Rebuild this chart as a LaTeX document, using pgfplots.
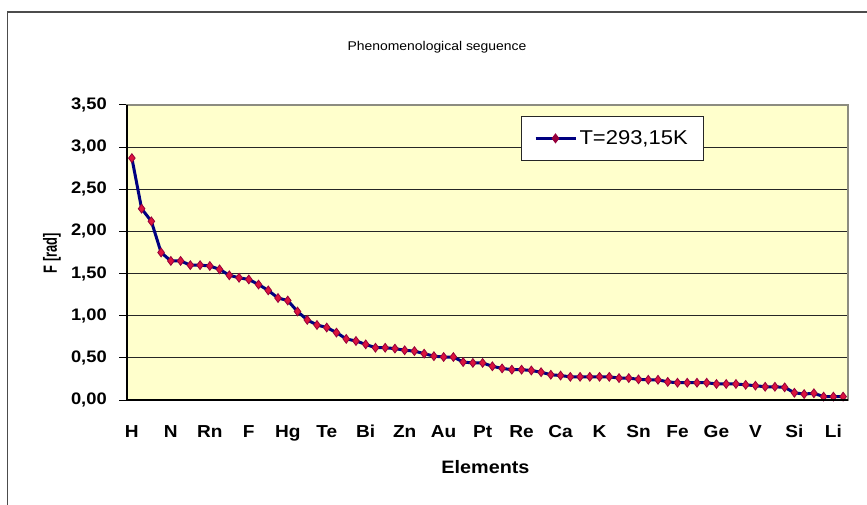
\documentclass[border=0pt]{standalone}
\usepackage{fontspec}
\setmainfont{Liberation Sans}[FakeStretch=1.1]
\usepackage{pgfplots}
\pgfplotsset{compat=1.18}
\usepackage{graphicx}
\definecolor{plotbg}{RGB}{255,255,204}
\definecolor{bordergrey}{RGB}{140,140,128}
\definecolor{mkfill}{RGB}{220,20,60}
\definecolor{mkdraw}{RGB}{150,0,60}
\definecolor{linenavy}{RGB}{0,0,128}
\begin{document}
\begin{tikzpicture}[x=1pt,y=1pt]
\useasboundingbox (0,0) rectangle (650.25,378);
\draw[black!70, line width=1pt] (5.6,-5) -- (5.6,369) -- (660,369);
\node[font=\fontsize{9.5}{10}\selectfont] at (327.75,342.75) {Phenomenological seguence};
\begin{axis}[at={(95.25pt,78pt)}, anchor=south west, scale only axis,
  width=540.75pt, height=221.25pt,
  xmin=-0.5, xmax=73.5, ymin=0, ymax=3.5,
  axis background/.style={fill=plotbg},
  axis line style={draw=bordergrey, line width=0.9pt},
  tick pos=left, tick align=outside,
  xtick=\empty,
  minor xtick={-0.5,0.5,...,73.5}, minor tick length=4.3pt,
  extra x ticks={0,4,...,72},
  extra x tick labels={H,N,Rn,F,Hg,Te,Bi,Zn,Au,Pt,Re,Ca,K,Sn,Fe,Ge,V,Si,Li},
  extra x tick style={major tick length=0pt, grid=none,
    xticklabel style={font=\bfseries\fontsize{13}{13}\selectfont, anchor=north, inner sep=0pt, yshift=-18.75pt}},
  ytick={0,0.5,...,3.5}, major tick length=6pt,
  every tick/.style={black, line width=0.75pt},
  ymajorgrids, grid style={black!85, line width=0.75pt},
  yticklabel={\pgfmathprintnumber[fixed,fixed zerofill,precision=2,use comma,assume math mode=true]{\tick}\hspace*{9pt}},
  yticklabel style={font=\bfseries\fontsize{12.5}{13}\selectfont, anchor=east, inner sep=0pt},
  legend style={at={(0.546,0.9627)}, anchor=north west, draw=black!85, line width=0.75pt,
    fill=white, font=\fontsize{15}{15}\selectfont, inner xsep=9.75pt, inner ysep=8.4pt},
  legend image code/.code={\draw[linenavy,line width=2pt] (0pt,0pt) -- (30pt,0pt);
    \draw[mark=diamond*, mark size=2pt, mark options={fill=mkfill, draw=mkdraw}] plot coordinates {(15pt,0pt)};},
  extra description/.code={\draw[black, line width=0.9pt] (rel axis cs:0,1) -- (rel axis cs:0,0) -- (rel axis cs:1,0);},
]
\addplot[linenavy, line width=2.25pt, mark=diamond*, mark size=3.3pt,
  mark options={fill=mkfill, draw=mkdraw, line width=0.6pt}] table {
x y
0 2.87
1 2.27
2 2.12
3 1.75
4 1.65
5 1.65
6 1.60
7 1.60
8 1.59
9 1.55
10 1.48
11 1.45
12 1.43
13 1.37
14 1.30
15 1.21
16 1.18
17 1.05
18 0.95
19 0.89
20 0.86
21 0.80
22 0.725
23 0.70
24 0.66
25 0.62
26 0.62
27 0.61
28 0.59
29 0.58
30 0.55
31 0.52
32 0.51
33 0.51
34 0.45
35 0.44
36 0.44
37 0.40
38 0.375
39 0.36
40 0.36
41 0.35
42 0.33
43 0.30
44 0.29
45 0.275
46 0.275
47 0.275
48 0.275
49 0.275
50 0.26
51 0.26
52 0.245
53 0.24
54 0.24
55 0.215
56 0.205
57 0.205
58 0.205
59 0.205
60 0.19
61 0.19
62 0.19
63 0.18
64 0.17
65 0.157
66 0.157
67 0.15
68 0.086
69 0.07
70 0.08
71 0.04
72 0.04
73 0.04
};
\addlegendentry{T=293,15K}
\end{axis}
\node[rotate=90, font=\bfseries\fontsize{11}{12}\selectfont] at (39,188.25) {\scalebox{0.8}[1.3]{F [rad]}};
\node[font=\bfseries\fontsize{13.5}{14}\selectfont] at (364.1,27.75) {Elements};
\end{tikzpicture}
\end{document}
